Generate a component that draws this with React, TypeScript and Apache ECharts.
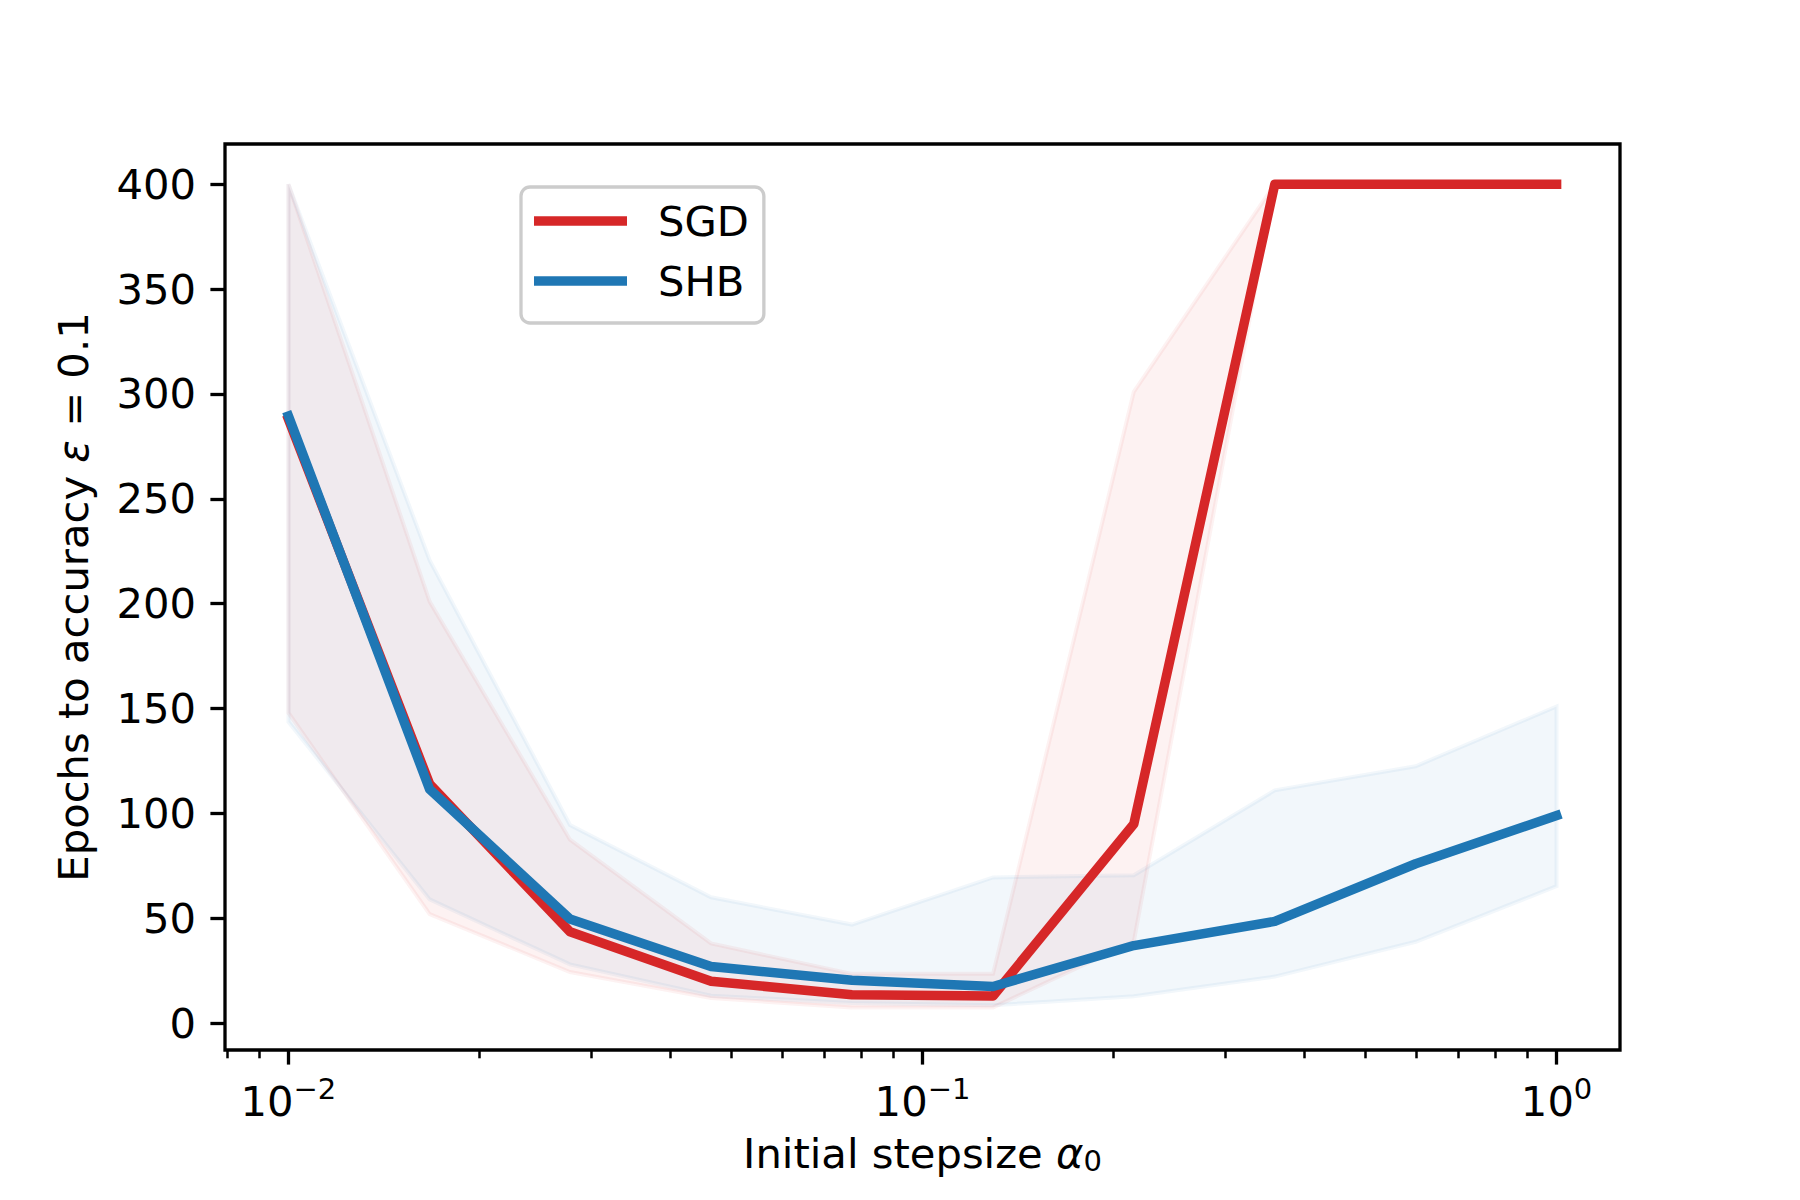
import React, { useEffect, useRef } from "react";
import * as echarts from "echarts";

// Initial stepsizes (log-spaced grid)
const stepsizes = [0.01, 0.0167, 0.0278, 0.0464, 0.0774, 0.1292, 0.2154, 0.3594, 0.5995, 1.0];

// SGD: mean and band (lower / upper)
const sgdMean = [288, 114, 43.6, 20, 13.5, 13, 95, 400, 400, 400];
const sgdLow = [148, 52, 24.4, 12, 7.5, 7.5, 39, 400, 400, 400];
const sgdHigh = [400, 201, 87.5, 38, 23.5, 23.5, 301, 400, 400, 400];

// SHB: mean and band (lower / upper)
const shbMean = [289.5, 111.5, 49.7, 27, 20.5, 17.5, 37, 48.5, 76, 99];
const shbLow = [143.7, 59, 28, 13.1, 9.6, 8.5, 12.8, 22.2, 38.8, 65.3];
const shbHigh = [400, 220.7, 94.5, 60, 47, 69.5, 70.5, 111, 122.5, 151];

// Ticks
const xMajorTicks = [0.01, 0.1, 1];
const xMajorExponents = ["−2", "−1", "0"];
const xMinorTicks = [0.008, 0.009, 0.02, 0.03, 0.04, 0.05, 0.06, 0.07, 0.08, 0.09, 0.2, 0.3, 0.4, 0.5, 0.6, 0.7, 0.8, 0.9];
const yTicks = [0, 50, 100, 150, 200, 250, 300, 350, 400];

const RED = "#d62728";
const BLUE = "#1f77b4";
const FONT = "DejaVu Sans";
const FS = 41.7;
const LW = 9.5;

const lg = (v: number) => Math.log10(v);

function bandSeries(name: string, low: number[], high: number[], color: string, alphaFill: number) {
  return {
    type: "custom",
    name: name + "_band",
    xAxisIndex: 0,
    yAxisIndex: 0,
    z: 1,
    silent: true,
    data: stepsizes.map((x, i) => [lg(x), low[i], high[i]]),
    encode: { x: 0, y: [1, 2] },
    renderItem: (params: any, api: any) => {
      if (params.dataIndex !== 0) return null;
      const pts: number[][] = [];
      for (let i = 0; i < stepsizes.length; i++) pts.push(api.coord([lg(stepsizes[i]), high[i]]));
      for (let i = stepsizes.length - 1; i >= 0; i--) pts.push(api.coord([lg(stepsizes[i]), low[i]]));
      return {
        type: "polygon",
        shape: { points: pts },
        style: { fill: color, opacity: 1, fillOpacity: alphaFill, stroke: color, strokeOpacity: 0.06, lineWidth: 4 },
      };
    },
  };
}

export default function App() {
  const ref = useRef<HTMLDivElement>(null);
  useEffect(() => {
    document.body.style.margin = "0";
    const chart = echarts.init(ref.current!, null, { renderer: "svg" });
    const l0 = lg(stepsizes[0]);
    const l1 = lg(stepsizes[stepsizes.length - 1]);
    const xMin = l0 - 0.05 * (l1 - l0);
    const xMax = l1 + 0.05 * (l1 - l0);
    const option: any = {
      animation: false,
      backgroundColor: "#ffffff",
      textStyle: { fontFamily: FONT },
      grid: {
        left: 225,
        top: 144,
        width: 1395,
        height: 906,
        show: true,
        borderColor: "#000",
        borderWidth: 3.3,
        backgroundColor: "transparent",
        containLabel: false,
      },
      legend: {
        orient: "vertical",
        left: 521,
        top: 187,
        data: ["SGD", "SHB"],
        icon: "rect",
        itemWidth: 93,
        itemHeight: LW,
        itemGap: 10,
        padding: [9, 15, 17, 13],
        backgroundColor: "rgba(255,255,255,0.8)",
        borderColor: "#cccccc",
        borderWidth: 3.3,
        borderRadius: 9,
        textStyle: { fontFamily: FONT, fontSize: FS, color: "#000", lineHeight: 50, padding: [0, 0, 0, 26] },
      },
      xAxis: [
        {
          type: "value",
          min: xMin,
          max: xMax,
          position: "bottom",
          axisLine: { show: false, onZero: false },
          splitLine: { show: false },
          axisTick: {
            show: true,
            length: 14.6,
            lineStyle: { color: "#000", width: 3.3 },
            customValues: xMajorTicks.map(lg),
          },
          axisLabel: {
            show: true,
            margin: 26,
            customValues: xMajorTicks.map(lg),
            formatter: (v: number) => {
              const i = xMajorTicks.findIndex((t) => Math.abs(lg(t) - v) < 1e-6);
              return i >= 0 ? "{b|10}{s|" + xMajorExponents[i] + "}" : "";
            },
            rich: {
              b: { fontFamily: FONT, fontSize: FS, color: "#000", lineHeight: 50 },
              s: { fontFamily: FONT, fontSize: 29, color: "#000", lineHeight: 29, padding: [0, 0, 24, 0] },
            },
          },
          name: "Initial stepsize {i|α}{sub|0}",
          nameLocation: "middle",
          nameGap: 79,
          nameTextStyle: {
            fontFamily: FONT,
            fontSize: FS,
            color: "#000",
            rich: {
              i: { fontFamily: FONT, fontSize: FS, fontStyle: "italic", color: "#000" },
              sub: { fontFamily: FONT, fontSize: 29, color: "#000", padding: [16, 0, 0, 0] },
            },
          },
        },
        {
          type: "value",
          min: xMin,
          max: xMax,
          position: "bottom",
          gridIndex: 0,
          axisLine: { show: false, onZero: false },
          splitLine: { show: false },
          axisLabel: { show: false },
          axisTick: {
            show: true,
            length: 8.3,
            lineStyle: { color: "#000", width: 2.5 },
            customValues: xMinorTicks.map(lg),
          },
        },
      ],
      yAxis: {
        type: "value",
        min: -12.8,
        max: 419.2,
        position: "left",
        axisLine: { show: false, onZero: false },
        splitLine: { show: false },
        axisTick: {
          show: true,
          length: 14.6,
          lineStyle: { color: "#000", width: 3.3 },
          customValues: yTicks,
        },
        axisLabel: {
          show: true,
          margin: 29,
          customValues: yTicks,
          fontFamily: FONT,
          fontSize: FS,
          color: "#000",
        },
        name: "Epochs to accuracy {i|ε} = 0.1",
        nameLocation: "middle",
        nameRotate: 90,
        nameGap: 131,
        nameTextStyle: {
          fontFamily: FONT,
          fontSize: FS,
          color: "#000",
          rich: {
            i: { fontFamily: FONT, fontSize: FS, fontStyle: "italic", color: "#000" },
          },
        },
      },
      series: [
        bandSeries("SGD", sgdLow, sgdHigh, RED, 0.06),
        bandSeries("SHB", shbLow, shbHigh, BLUE, 0.06),
        {
          type: "line",
          name: "SGD",
          xAxisIndex: 0,
          yAxisIndex: 0,
          z: 3,
          symbol: "none",
          color: RED,
          lineStyle: { color: RED, width: LW, cap: "square", join: "round" },
          data: stepsizes.map((x, i) => [lg(x), sgdMean[i]]),
        },
        {
          type: "line",
          name: "SHB",
          xAxisIndex: 0,
          yAxisIndex: 0,
          z: 4,
          symbol: "none",
          color: BLUE,
          lineStyle: { color: BLUE, width: LW, cap: "square", join: "round" },
          data: stepsizes.map((x, i) => [lg(x), shbMean[i]]),
        },
      ],
    };
    chart.setOption(option);
    return () => chart.dispose();
  }, []);
  return <div ref={ref} style={{ width: 1800, height: 1200 }} />;
}
